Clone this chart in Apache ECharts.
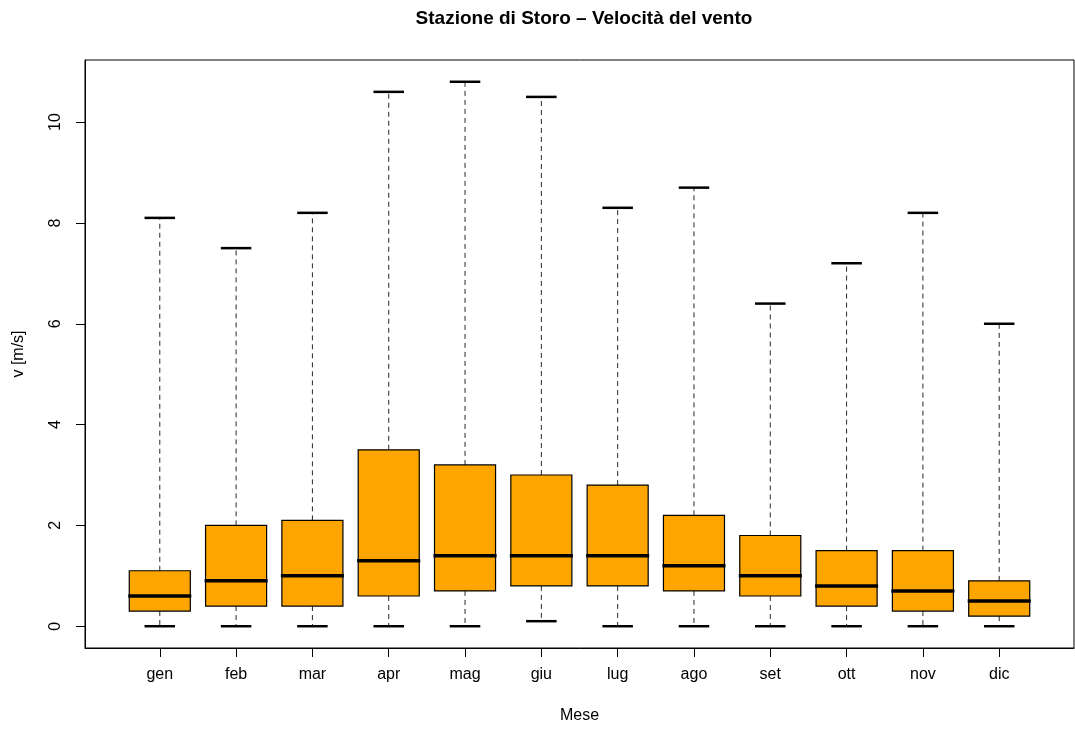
<!DOCTYPE html>
<html>
<head>
<meta charset="utf-8">
<script src="https://cdn.jsdelivr.net/npm/echarts@6/dist/echarts.min.js"></script>
<style>
html,body{margin:0;padding:0;background:#fff;}
#chart{width:1075px;height:733px;}
</style>
</head>
<body>
<div id="chart"></div>
<script>
const months = ['gen','feb','mar','apr','mag','giu','lug','ago','set','ott','nov','dic'];
const whiskerLow  = [0, 0, 0, 0, 0, 0.1, 0, 0, 0, 0, 0, 0];
const q1          = [0.3, 0.4, 0.4, 0.6, 0.7, 0.8, 0.8, 0.7, 0.6, 0.4, 0.3, 0.2];
const median      = [0.6, 0.9, 1.0, 1.3, 1.4, 1.4, 1.4, 1.2, 1.0, 0.8, 0.7, 0.5];
const q3          = [1.1, 2.0, 2.1, 3.5, 3.2, 3.0, 2.8, 2.2, 1.8, 1.5, 1.5, 0.9];
const whiskerHigh = [8.1, 7.5, 8.2, 10.6, 10.8, 10.5, 8.3, 8.7, 6.4, 7.2, 8.2, 6.0];
const yTicks = [0, 2, 4, 6, 8, 10];

const xPos = months.map((m, i) => i + 1);
const data = months.map((m, i) => [xPos[i], whiskerLow[i], q1[i], median[i], q3[i], whiskerHigh[i]]);

const yLo = Math.min(...whiskerLow), yHi = Math.max(...whiskerHigh);
const yPad = 0.04 * (yHi - yLo);
const xLo = 0.5, xHi = months.length + 0.5;
const xPad = 0.04 * (xHi - xLo);

function renderItem(params, api) {
  const x = api.value(0);
  const pLo = api.coord([x, api.value(1)]);
  const pQ1 = api.coord([x, api.value(2)]);
  const pMd = api.coord([x, api.value(3)]);
  const pQ3 = api.coord([x, api.value(4)]);
  const pHi = api.coord([x, api.value(5)]);
  const bw = api.size([0.8, 0])[0];
  const sw = bw * 0.5;
  const cx = pQ1[0];
  const dash = {stroke: '#000', lineWidth: 1, lineDash: [5, 4], opacity: 0.85};
  const staple = {stroke: '#000', lineWidth: 2.5};
  return {
    type: 'group',
    children: [
      {type: 'line', shape: {x1: cx, y1: pQ3[1], x2: cx, y2: pHi[1]}, style: dash},
      {type: 'line', shape: {x1: cx, y1: pQ1[1], x2: cx, y2: pLo[1]}, style: dash},
      {type: 'line', shape: {x1: cx - sw / 2, y1: pHi[1], x2: cx + sw / 2, y2: pHi[1]}, style: staple},
      {type: 'line', shape: {x1: cx - sw / 2, y1: pLo[1], x2: cx + sw / 2, y2: pLo[1]}, style: staple},
      {type: 'rect', shape: {x: cx - bw / 2, y: pQ3[1], width: bw, height: pQ1[1] - pQ3[1]},
        style: {fill: '#FFA500', stroke: '#000', lineWidth: 1.2}},
      {type: 'line', shape: {x1: cx - bw / 2 - 1, y1: pMd[1], x2: cx + bw / 2 + 1, y2: pMd[1]},
        style: {stroke: '#000', lineWidth: 3.5}}
    ]
  };
}

const chart = echarts.init(document.getElementById('chart'), null, {renderer: 'canvas'});
const font = 'Liberation Sans, Arial, Helvetica, sans-serif';
chart.setOption({
  animation: false,
  backgroundColor: '#fff',
  textStyle: {fontFamily: font},
  title: {
    text: 'Stazione di Storo \u2013 Velocit\u00e0 del vento',
    left: 579, top: 4, textAlign: 'center',
    textStyle: {fontFamily: font, fontWeight: 'bold', fontSize: 19, color: '#000'}
  },
  grid: {left: 85, right: 1, top: 60, bottom: 85, show: true, borderColor: '#000', borderWidth: 1, backgroundColor: 'transparent'},
  xAxis: {
    type: 'value', min: xLo - xPad, max: xHi + xPad,
    name: 'Mese', nameLocation: 'middle', nameGap: 60,
    nameTextStyle: {fontFamily: font, fontSize: 16, color: '#000'},
    axisLine: {show: true, onZero: false, lineStyle: {color: '#000', width: 1}},
    axisTick: {show: true, length: 9, lineStyle: {color: '#000'}, customValues: xPos},
    axisLabel: {show: true, margin: 19, fontSize: 16, color: '#000', fontFamily: font,
      customValues: xPos, formatter: v => months[Math.round(v) - 1]},
    splitLine: {show: false}
  },
  yAxis: {
    type: 'value', min: yLo - yPad, max: yHi + yPad,
    name: 'v [m/s]', nameLocation: 'middle', nameGap: 58, nameRotate: 90,
    nameTextStyle: {fontFamily: font, fontSize: 16, color: '#000'},
    axisLine: {show: true, onZero: false, lineStyle: {color: '#000', width: 1}},
    axisTick: {show: true, length: 9, lineStyle: {color: '#000'}, customValues: yTicks},
    axisLabel: {show: true, margin: 21, rotate: 90, fontSize: 16, color: '#000', fontFamily: font,
      customValues: yTicks, formatter: v => String(Math.round(v))},
    splitLine: {show: false}
  },
  series: [{
    type: 'custom',
    renderItem: renderItem,
    data: data,
    encode: {x: 0, y: [1, 2, 3, 4, 5]},
    clip: false
  }]
});
</script>
</body>
</html>
